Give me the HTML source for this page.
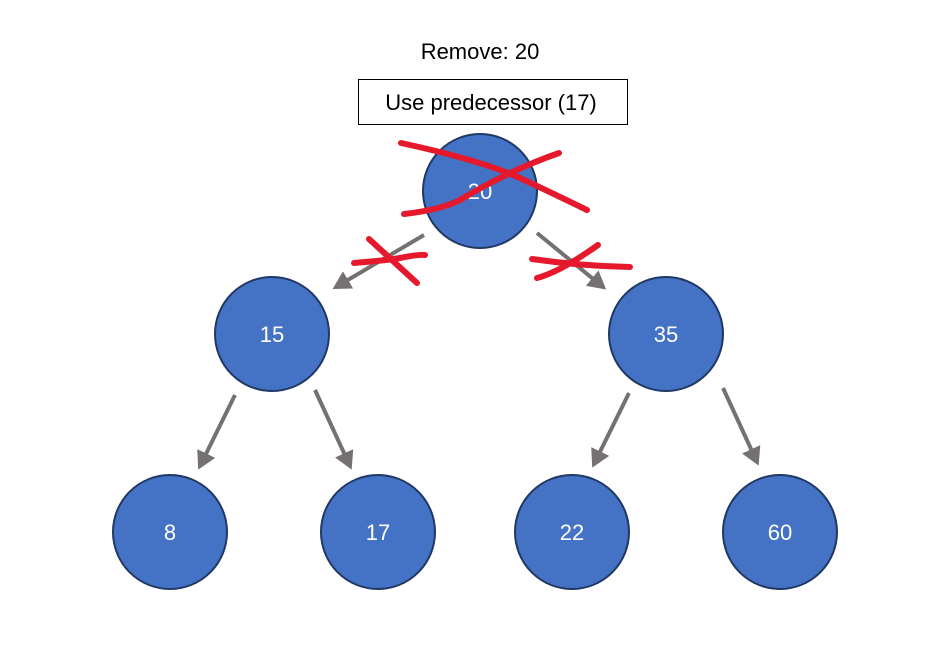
<!DOCTYPE html>
<html><head><style>
body{margin:0;background:#fff;width:937px;height:645px;overflow:hidden}
svg{display:block}
text{font-family:"Liberation Sans",sans-serif}
</style></head><body>
<svg width="937" height="645" viewBox="0 0 937 645">
<defs><marker id="a" markerWidth="5" markerHeight="5" refX="3.5" refY="2.5" orient="auto" markerUnits="strokeWidth"><path d="M0,0 L4.5,2.5 L0,5 z" fill="#767171"/></marker></defs>
<text x="480" y="59" font-size="22" text-anchor="middle">Remove: 20</text>
<rect x="358.5" y="79.5" width="269" height="45" fill="#fff" stroke="#000" stroke-width="1"/>
<text x="491" y="110" font-size="22" text-anchor="middle">Use predecessor (17)</text>
<g stroke="#767171" stroke-width="4" marker-end="url(#a)">
<line x1="424" y1="235" x2="336" y2="287"/>
<line x1="537" y1="233" x2="603" y2="287"/>
<line x1="235" y1="395" x2="200" y2="466"/>
<line x1="315" y1="390" x2="350" y2="466"/>
<line x1="629" y1="393" x2="594" y2="464"/>
<line x1="723" y1="388" x2="757" y2="462"/>
</g>
<g fill="#4472c4" stroke="#1f3864" stroke-width="2">
<circle cx="480" cy="191" r="57"/>
<circle cx="272" cy="334" r="57"/>
<circle cx="666" cy="334" r="57"/>
<circle cx="170" cy="532" r="57"/>
<circle cx="378" cy="532" r="57"/>
<circle cx="572" cy="532" r="57"/>
<circle cx="780" cy="532" r="57"/>
</g>
<g fill="#fff" font-size="22" text-anchor="middle">
<text x="480" y="199">20</text>
<text x="272" y="342">15</text>
<text x="666" y="342">35</text>
<text x="170" y="540">8</text>
<text x="378" y="540">17</text>
<text x="572" y="540">22</text>
<text x="780" y="540">60</text>
</g>
<g stroke="#e5192b" stroke-width="6" fill="none" stroke-linecap="round">
<path d="M401,143 Q480,160 520,178 Q550,192 587,210"/>
<path d="M404,214 Q440,210 460,200 Q510,170 559,153"/>
<path d="M354,263 Q390,260 400,258 Q420,254 425,255"/>
<path d="M369,239 L417,283"/>
<path d="M532,259 Q580,266 630,267"/>
<path d="M537,278 Q560,272 598,245"/>
</g>
</svg>
</body></html>
